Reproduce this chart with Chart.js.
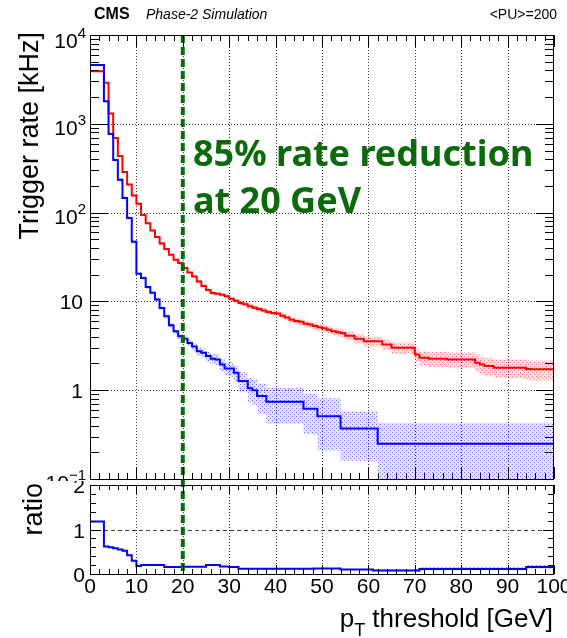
<!DOCTYPE html>
<html><head><meta charset="utf-8">
<script src="https://cdn.jsdelivr.net/npm/chart.js@4.4.0/dist/chart.umd.min.js"></script>
<style>
html,body{margin:0;padding:0;background:#fff;overflow:hidden}
#wrap{position:relative;width:567px;height:638px;background:#fff}
#top{position:absolute;left:0;top:0}
#bot{position:absolute;left:0;top:481px}
</style></head><body>
<div id="wrap"><canvas id="top" width="567" height="481"></canvas><canvas id="bot" width="567" height="157"></canvas></div>
<script>
// ---------------- data (1 GeV bins, threshold 0..100 GeV) ----------------
const binEdges = [0,1,2,3,4,5,6,7,8,9,10,11,12,13,14,15,16,17,18,19,20,21,22,23,24,25,26,27,28,29,30,31,32,33,34,35,36,37,38,39,40,41,42,43,44,45,46,47,48,49,50,51,52,53,54,55,56,57,58,59,60,61,62,63,64,65,66,67,68,69,70,71,72,73,74,75,76,77,78,79,80,81,82,83,84,85,86,87,88,89,90,91,92,93,94,95,96,97,98,99,100];

// red: reference rate [kHz]
const rateRed = [3900,3900,3900,2900,1310,692,434,287,207,156,
126,94,76,63,53,45,39,33.6,29.5,27,
23.8,21.2,19.1,16.8,14.9,13.4,12.4,12.2,11.9,11.4,
10.7,10.2,9.6,9.3,8.8,8.5,8.2,7.9,7.6,7.4,
7.3,6.9,6.6,6.2,6.0,5.9,5.6,5.5,5.3,5.1,
5.0,4.8,4.6,4.5,4.4,4.1,4.1,3.8,3.8,3.56,
3.56,3.56,3.56,3.27,3.27,3.0,3.0,3.0,3.0,3.0,
2.52,2.32,2.32,2.26,2.26,2.26,2.26,2.22,2.22,2.22,
2.22,2.22,2.22,2.04,1.95,1.87,1.87,1.79,1.79,1.79,
1.79,1.79,1.79,1.79,1.73,1.72,1.72,1.72,1.72,1.72];
const errRed = [78,78,78,58,26,14,9,6.3,4.8,3.7,
3.2,2.5,2.1,1.8,1.6,1.35,1.2,1.1,1.0,0.95,
0.85,0.8,0.75,0.7,0.65,0.6,0.58,0.58,0.58,0.58,
0.53,0.53,0.53,0.53,0.53,0.53,0.53,0.53,0.53,0.53,
0.48,0.48,0.48,0.48,0.48,0.48,0.48,0.48,0.48,0.48,
0.46,0.46,0.46,0.46,0.46,0.46,0.46,0.46,0.46,0.46,
0.45,0.45,0.45,0.45,0.45,0.45,0.45,0.45,0.45,0.45,
0.43,0.43,0.43,0.43,0.43,0.43,0.43,0.43,0.43,0.43,
0.43,0.43,0.43,0.43,0.43,0.43,0.43,0.43,0.43,0.43,
0.43,0.43,0.43,0.43,0.43,0.43,0.43,0.43,0.43,0.43];

// blue: new rate [kHz]
const rateBlue = [4580,4580,4580,1800,768,392,234,146,87,47,
20.5,18.4,14.5,12.5,10.5,8.4,6.8,5.4,4.6,4.05,
3.8,3.4,3.1,2.75,2.64,2.42,2.26,2.22,1.95,1.75,
1.75,1.57,1.27,1.27,1.05,1.0,0.86,0.86,0.74,0.74,
0.74,0.74,0.74,0.74,0.74,0.74,0.62,0.62,0.62,0.51,
0.51,0.51,0.51,0.51,0.37,0.37,0.37,0.37,0.37,0.37,
0.37,0.37,0.25,0.25,0.25,0.25,0.25,0.25,0.25,0.25,
0.25,0.25,0.25,0.25,0.25,0.25,0.25,0.25,0.25,0.25,
0.25,0.25,0.25,0.25,0.25,0.25,0.25,0.25,0.25,0.25,
0.25,0.25,0.25,0.25,0.25,0.25,0.25,0.25,0.25,0.25];
const errBlue = [90,90,90,50,25,15,10,6,4,2.5,
0.6,0.6,0.5,0.45,0.4,0.35,0.33,0.3,0.3,0.3,
0.3,0.3,0.3,0.3,0.3,0.3,0.3,0.3,0.3,0.3,
0.32,0.32,0.32,0.32,0.32,0.32,0.32,0.32,0.32,0.32,
0.32,0.32,0.32,0.32,0.32,0.32,0.3,0.3,0.3,0.3,
0.3,0.3,0.3,0.3,0.21,0.21,0.21,0.21,0.21,0.21,
0.21,0.21,0.18,0.18,0.18,0.18,0.18,0.18,0.18,0.18,
0.18,0.18,0.18,0.18,0.18,0.18,0.18,0.18,0.18,0.18,
0.18,0.18,0.18,0.18,0.18,0.18,0.18,0.18,0.18,0.18,
0.18,0.18,0.18,0.18,0.18,0.18,0.18,0.18,0.18,0.18];

// ratio panel
const ratioVals = [1.18,1.18,1.18,0.62,0.60,0.58,0.55,0.52,0.42,0.30,
0.18,0.2,0.2,0.2,0.2,0.2,0.155,0.155,0.155,0.155,
0.165,0.165,0.165,0.165,0.165,0.2,0.2,0.2,0.17,0.17,
0.155,0.155,0.12,0.12,0.12,0.12,0.12,0.12,0.12,0.12,
0.12,0.12,0.12,0.12,0.12,0.12,0.12,0.12,0.125,0.125,
0.125,0.125,0.125,0.125,0.1,0.1,0.1,0.1,0.1,0.1,
0.1,0.08,0.08,0.08,0.08,0.08,0.08,0.08,0.08,0.08,
0.08,0.115,0.115,0.115,0.115,0.115,0.115,0.115,0.115,0.115,
0.115,0.115,0.115,0.115,0.115,0.115,0.115,0.115,0.115,0.115,
0.115,0.115,0.115,0.115,0.16,0.16,0.16,0.16,0.16,0.16];
const ratioErr = [0.01,0.01,0.01,0.01,0.01,0.01,0.01,0.01,0.01,0.01,
0.01,0.01,0.01,0.01,0.01,0.01,0.01,0.01,0.01,0.01,
0.01,0.01,0.01,0.01,0.01,0.01,0.01,0.01,0.01,0.01,
0.01,0.01,0.01,0.01,0.01,0.01,0.01,0.01,0.01,0.01,
0.01,0.01,0.01,0.01,0.01,0.01,0.01,0.01,0.01,0.01,
0.01,0.01,0.01,0.01,0.01,0.01,0.01,0.01,0.01,0.01,
0.02,0.02,0.02,0.02,0.02,0.02,0.02,0.02,0.02,0.02,
0.035,0.035,0.035,0.035,0.035,0.035,0.035,0.035,0.035,0.035,
0.035,0.035,0.035,0.035,0.035,0.035,0.035,0.035,0.035,0.035,
0.035,0.035,0.035,0.035,0.045,0.045,0.045,0.045,0.045,0.045];

// axis ticks / labels
const xTicks = [0,10,20,30,40,50,60,70,80,90,100];
const xTickLabels = ['0','10','20','30','40','50','60','70','80','90','100'];
const yDecades = [0.1,1,10,100,1000,10000];
const yTickLabels = [['10','\u22121'],['1',''],['10',''],['10','2'],['10','3'],['10','4']];
const ratioTicks = [0,1,2];
const ratioTickLabels = ['0','1','2'];
const cutValue = 20;

// ---------------- helpers ----------------
const FONT = '"Liberation Sans", Arial, sans-serif';
function stepPts(vals){
  const p = vals.map((v,i)=>({x:binEdges[i], y:v}));
  p.push({x:binEdges[vals.length], y:vals[vals.length-1]});
  return p;
}
function makePattern(ctx, rgb, a1, a2){
  const c=document.createElement('canvas'); c.width=4; c.height=4;
  const g=c.getContext('2d');
  g.fillStyle='rgba('+rgb+','+a1+')'; g.fillRect(0,0,4,4);
  g.fillStyle='rgba('+rgb+','+a2+')'; g.fillRect(0,0,1,1); g.fillRect(2,2,1,1);
  return ctx.createPattern(c,'repeat');
}
function seg(ctx,x1,y1,x2,y2){ctx.beginPath();ctx.moveTo(x1,y1);ctx.lineTo(x2,y2);ctx.stroke();}

const ctxTop = document.getElementById('top').getContext('2d');
const ctxBot = document.getElementById('bot').getContext('2d');
const patRed = makePattern(ctxTop,'255,60,60',0.16,0.6);
const patBlue = makePattern(ctxTop,'40,40,255',0.13,0.6);
const patBlue2 = makePattern(ctxBot,'40,40,255',0.15,0.6);

const lineDs = (data,color,order)=>({data,borderColor:color,borderWidth:2,pointRadius:0,stepped:'before',fill:false,order});
const bandDs = (data,pat,fill,order)=>({data,borderWidth:0,borderColor:'rgba(0,0,0,0)',backgroundColor:pat,pointRadius:0,stepped:'before',fill,order});

// ---------------- upper panel ----------------
const upperDeco = {
  id:'upperDeco',
  beforeDatasetsDraw(chart){
    const {ctx, chartArea:a, scales:{x,y}} = chart;
    ctx.save();
    ctx.strokeStyle='#333'; ctx.lineWidth=1; ctx.setLineDash([1,2]);
    xTicks.forEach(v=>{ if(v<=0||v>=100) return; const px=Math.round(x.getPixelForValue(v))+0.5; seg(ctx,px,a.top,px,a.bottom);});
    yDecades.forEach(v=>{ if(v<=0.1||v>=10000) return; const py=Math.round(y.getPixelForValue(v))+0.5; seg(ctx,a.left,py,a.right,py);});
    ctx.restore();
  },
  afterDatasetsDraw(chart){
    const {ctx, chartArea:a, scales:{x}} = chart;
    ctx.save();
    ctx.strokeStyle='#0b6b0b'; ctx.lineWidth=4; ctx.setLineDash([8,4]);
    const px=x.getPixelForValue(cutValue);
    seg(ctx,px,a.top,px,chart.height);
    ctx.restore();
  },
  afterDraw(chart){
    const {ctx, chartArea:a, scales:{x,y}} = chart;
    ctx.save();
    ctx.strokeStyle='#000'; ctx.lineWidth=1; ctx.setLineDash([]);
    ctx.strokeRect(a.left+0.5,a.top+0.5,a.right-a.left-1,a.bottom-a.top);
    // x ticks (bottom and top)
    for(let v=0; v<=100; v+=2){
      const px=Math.round(x.getPixelForValue(v))+0.5;
      const L = (v%10===0)?12:6;
      seg(ctx,px,a.bottom,px,a.bottom-L);
      seg(ctx,px,a.top,px,a.top+L);
    }
    // y ticks (left and right)
    for(let d=0; d<yDecades.length; d++){
      const dec=yDecades[d];
      const py=Math.round(y.getPixelForValue(dec))+0.5;
      seg(ctx,a.left,py,a.left+18,py); seg(ctx,a.right,py,a.right-18,py);
      if(d<yDecades.length-1){
        for(let m=2;m<=9;m++){
          const q=Math.round(y.getPixelForValue(dec*m))+0.5;
          seg(ctx,a.left,q,a.left+9,q); seg(ctx,a.right,q,a.right-9,q);
        }
      }
    }
    // y tick labels
    ctx.fillStyle='#000'; ctx.textAlign='left'; ctx.textBaseline='alphabetic';
    yDecades.forEach((v,i)=>{
      const py=y.getPixelForValue(v);
      const [base,exp]=yTickLabels[i];
      ctx.font='21px '+FONT; const bw=ctx.measureText(base).width;
      if(exp){
        ctx.font='15px '+FONT; const ew=ctx.measureText(exp).width;
        const x0=86-ew-bw;
        const bl = py + (v===10000?13:11);
        ctx.font='21px '+FONT; ctx.fillText(base,x0,bl);
        ctx.font='15px '+FONT; ctx.fillText(exp,x0+bw,bl-10);
      } else {
        ctx.font='21px '+FONT; ctx.fillText(base,83-bw,py+7.5);
      }
    });
    // y title
    ctx.save();
    ctx.translate(38,32); ctx.rotate(-Math.PI/2);
    ctx.font='27px '+FONT; ctx.textAlign='right'; ctx.fillText('Trigger rate [kHz]',0,0);
    ctx.restore();
    // header
    ctx.textAlign='left';
    ctx.font='bold 16px '+FONT; ctx.fillText('CMS',94,19);
    ctx.font='italic 14px '+FONT; ctx.fillText('Phase-2 Simulation',146,19);
    ctx.textAlign='right'; ctx.font='14px '+FONT; ctx.fillText('<PU>=200',557,19);
    // annotation
    ctx.textAlign='left'; ctx.fillStyle='#0b6b0b';
    ctx.font='bold 36px "Noto Sans", "Open Sans", sans-serif';
    ctx.fillText('85% rate reduction',193,166);
    ctx.fillText('at 20 GeV',193,213);
    ctx.restore();
  }
};

new Chart(ctxTop,{
  type:'line',
  data:{datasets:[
    lineDs(stepPts(rateBlue),'#0000ff',0),
    lineDs(stepPts(rateRed),'#ff0000',0),
    bandDs(stepPts(rateRed.map((v,i)=>v+errRed[i])),patRed,'+1',2),
    bandDs(stepPts(rateRed.map((v,i)=>Math.max(v-errRed[i],0.01))),'rgba(0,0,0,0)',false,2),
    bandDs(stepPts(rateBlue.map((v,i)=>v+errBlue[i])),patBlue,'+1',1),
    bandDs(stepPts(rateBlue.map((v,i)=>Math.max(v-errBlue[i],0.01))),'rgba(0,0,0,0)',false,1)
  ]},
  options:{
    responsive:false, animation:false, devicePixelRatio:1,
    layout:{padding:{left:90,right:13,top:35,bottom:2}},
    scales:{
      x:{type:'linear',min:0,max:100,display:false},
      y:{type:'logarithmic',min:0.1,max:10000,display:false}
    },
    plugins:{legend:{display:false},tooltip:{enabled:false}}
  },
  plugins:[upperDeco]
});

// ---------------- ratio panel ----------------
const lowerDeco = {
  id:'lowerDeco',
  beforeDraw(chart){
    const ctx=chart.ctx; ctx.save(); ctx.fillStyle='#fff'; ctx.fillRect(0,0,chart.width,chart.height); ctx.restore();
  },
  beforeDatasetsDraw(chart){
    const {ctx, chartArea:a, scales:{x,y}} = chart;
    ctx.save();
    ctx.strokeStyle='#333'; ctx.lineWidth=1; ctx.setLineDash([1,2]);
    xTicks.forEach(v=>{ if(v<=0||v>=100) return; const px=Math.round(x.getPixelForValue(v))+0.5; seg(ctx,px,a.top,px,a.bottom);});
    ctx.setLineDash([4,3]); ctx.strokeStyle='#444';
    const py=Math.round(y.getPixelForValue(1))+0.5; seg(ctx,a.left,py,a.right,py);
    ctx.restore();
  },
  afterDatasetsDraw(chart){
    const {ctx, chartArea:a, scales:{x}} = chart;
    ctx.save();
    ctx.strokeStyle='#0b6b0b'; ctx.lineWidth=4; ctx.setLineDash([8,4]); ctx.lineDashOffset=2;
    const px=x.getPixelForValue(cutValue);
    seg(ctx,px,0,px,a.bottom);
    ctx.restore();
  },
  afterDraw(chart){
    const {ctx, chartArea:a, scales:{x,y}} = chart;
    ctx.save();
    ctx.strokeStyle='#000'; ctx.lineWidth=1; ctx.setLineDash([]);
    ctx.strokeRect(a.left+0.5,a.top+0.5,a.right-a.left-1,a.bottom-a.top);
    for(let v=0; v<=100; v+=2){
      const px=Math.round(x.getPixelForValue(v))+0.5;
      const L=(v%10===0)?9:5;
      seg(ctx,px,a.bottom,px,a.bottom-L); seg(ctx,px,a.top,px,a.top+L);
    }
    for(let k=0;k<=10;k++){
      const v=k*0.2; const py=Math.round(y.getPixelForValue(v))+0.5;
      const L=(k%5===0)?11:6;
      seg(ctx,a.left,py,a.left+L,py); seg(ctx,a.right,py,a.right-L,py);
    }
    ctx.fillStyle='#000'; ctx.font='21px '+FONT; ctx.textBaseline='alphabetic';
    ctx.textAlign='center';
    xTicks.forEach((v,i)=>{ ctx.fillText(xTickLabels[i], x.getPixelForValue(v), a.bottom+19); });
    ctx.textAlign='right';
    ratioTicks.forEach((v,i)=>{ ctx.fillText(ratioTickLabels[i], 85, y.getPixelForValue(v)+8); });
    // x title with subscript
    ctx.textAlign='left';
    ctx.font='26px '+FONT; const wp=ctx.measureText('p').width; const wr=ctx.measureText(' threshold [GeV]').width;
    ctx.font='18px '+FONT; const wt=ctx.measureText('T').width;
    const x0=553-wp-wt-wr, bl=146;
    ctx.font='26px '+FONT; ctx.fillText('p',x0,bl);
    ctx.font='18px '+FONT; ctx.fillText('T',x0+wp,bl+9);
    ctx.font='26px '+FONT; ctx.fillText(' threshold [GeV]',x0+wp+wt,bl);
    // y title
    ctx.save(); ctx.translate(42,2); ctx.rotate(-Math.PI/2);
    ctx.font='27px '+FONT; ctx.textAlign='right'; ctx.fillText('ratio',0,0);
    ctx.restore();
    ctx.restore();
  }
};

new Chart(ctxBot,{
  type:'line',
  data:{datasets:[
    lineDs(stepPts(ratioVals),'#0000ff',0),
    bandDs(stepPts(ratioVals.map((v,i)=>v+ratioErr[i])),patBlue2,'+1',1),
    bandDs(stepPts(ratioVals.map((v,i)=>v-ratioErr[i])),'rgba(0,0,0,0)',false,1)
  ]},
  options:{
    responsive:false, animation:false, devicePixelRatio:1,
    layout:{padding:{left:90,right:13,top:4,bottom:64}},
    scales:{
      x:{type:'linear',min:0,max:100,display:false},
      y:{type:'linear',min:0,max:2,display:false}
    },
    plugins:{legend:{display:false},tooltip:{enabled:false}}
  },
  plugins:[lowerDeco]
});
</script>
</body></html>
